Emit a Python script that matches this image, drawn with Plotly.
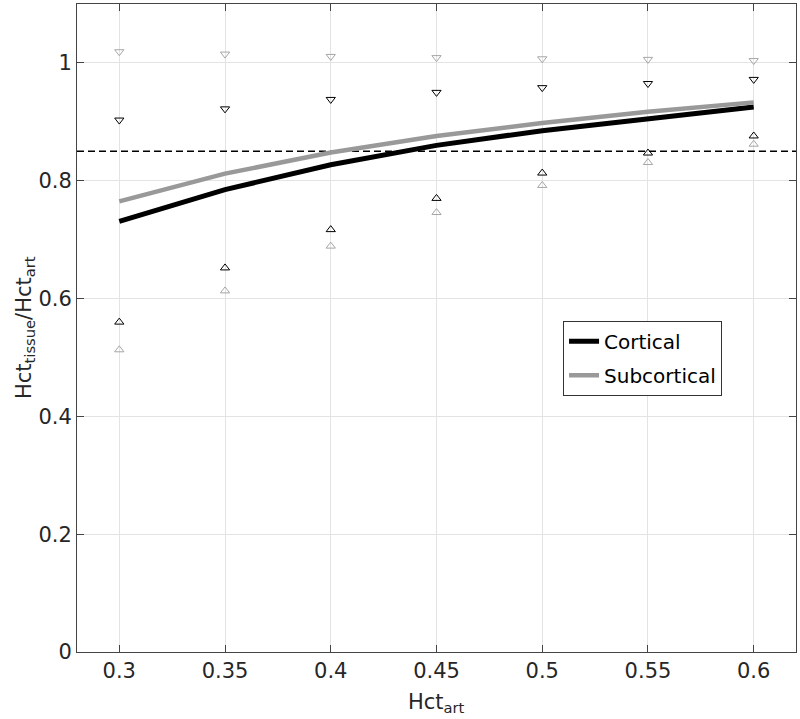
import plotly.graph_objects as go

hct_art = [0.3, 0.35, 0.4, 0.45, 0.5, 0.55, 0.6]
cortical = [0.731, 0.785, 0.827, 0.860, 0.885, 0.906, 0.925]
subcortical = [0.765, 0.812, 0.848, 0.876, 0.898, 0.917, 0.933]
cort_upper = [0.903, 0.922, 0.938, 0.950, 0.958, 0.965, 0.972]
cort_lower = [0.560, 0.652, 0.717, 0.770, 0.813, 0.847, 0.876]
sub_upper = [1.019, 1.015, 1.011, 1.009, 1.007, 1.006, 1.004]
sub_lower = [0.513, 0.613, 0.689, 0.746, 0.792, 0.831, 0.862]
ref_level = 0.85
x_ticktext = ["0.3", "0.35", "0.4", "0.45", "0.5", "0.55", "0.6"]
y_tickvals = [0, 0.2, 0.4, 0.6, 0.8, 1.0]
y_ticktext = ["0", "0.2", "0.4", "0.6", "0.8", "1"]

BLACK = "#000000"
GRAY = "#999999"
GRAY_M = "#a6a6a6"
FONT = "DejaVu Sans"
TXT = "#262626"
FS = 21

fig = go.Figure()
fig.add_trace(go.Scatter(x=[0.28, 0.62], y=[ref_level, ref_level], mode="lines",
                         line=dict(color="#000000", width=1.5, dash="7px,4px"),
                         showlegend=False, hoverinfo="skip"))
fig.add_trace(go.Scatter(x=hct_art, y=cortical, mode="lines", name="Cortical",
                         legendgroup="a", line=dict(color=BLACK, width=5)))
fig.add_trace(go.Scatter(x=hct_art, y=subcortical, mode="lines", name="Subcortical",
                         legendgroup="b", line=dict(color=GRAY, width=4.5)))
for ys, col, sym in [(cort_upper, "#000000", "triangle-down-open"),
                     (cort_lower, "#000000", "triangle-up-open"),
                     (sub_upper, GRAY_M, "triangle-down-open"),
                     (sub_lower, GRAY_M, "triangle-up-open")]:
    fig.add_trace(go.Scatter(x=hct_art, y=ys, mode="markers", showlegend=False,
                             marker=dict(symbol=sym, size=8, color=col,
                                         line=dict(color=col, width=1))))

axis_common = dict(showline=True, linecolor="#444444", linewidth=1, mirror="allticks",
                   ticks="inside", ticklen=7, tickcolor="#444444", automargin=False,
                   showgrid=True, gridcolor="#e3e3e3", gridwidth=1, zeroline=False,
                   tickfont=dict(family=FONT, size=FS, color=TXT))

fig.update_layout(
    width=800, height=719,
    margin=dict(l=77, r=4, t=4, b=67),
    paper_bgcolor="white", plot_bgcolor="white",
    font=dict(family=FONT, color=TXT),
    xaxis=dict(range=[0.28, 0.62], tickvals=hct_art, ticktext=x_ticktext, **axis_common),
    yaxis=dict(range=[0, 1.1], tickvals=y_tickvals, ticktext=y_ticktext, **axis_common),
    legend=dict(x=0.676, y=0.511, xanchor="left", yanchor="top",
                bgcolor="white", bordercolor="#333333", borderwidth=1,
                font=dict(family=FONT, size=20, color="#000000"),
                itemwidth=30, tracegroupgap=5),
    annotations=[
        dict(text="Hct<sub>art</sub>", xref="paper", yref="paper", x=0.5, y=0,
             xanchor="center", yanchor="top", yshift=-36, showarrow=False,
             font=dict(family=FONT, size=FS, color=TXT)),
        dict(text="Hct<sub>tissue</sub>/Hct<sub>art</sub>", xref="paper", yref="paper",
             x=0, y=0.5, xanchor="center", yanchor="middle", xshift=-52, textangle=-90,
             showarrow=False, font=dict(family=FONT, size=FS, color=TXT)),
    ],
)

fig.write_html("out.html", config={"displayModeBar": False},
               post_script="document.body.style.margin='0';document.body.style.overflow='hidden';")
